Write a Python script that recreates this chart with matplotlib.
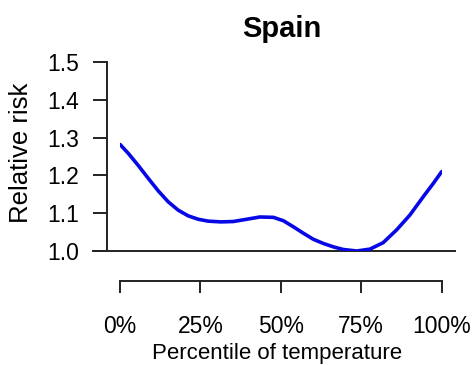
import numpy as np
import matplotlib
matplotlib.use("Agg")
import matplotlib.pyplot as plt

plt.rcParams['font.family'] = ['Liberation Sans', 'DejaVu Sans']

# valeurs (percentile, risque relatif)
percentile = [0, 2.6, 5.7, 8.8, 11.9, 15.0, 18.1, 21.2, 24.3, 27.4, 31.4,
              35.2, 39.4, 43.5, 47.7, 50.8, 53.9, 57.0, 60.1, 63.2, 66.3,
              69.4, 73.6, 77.7, 81.8, 86.0, 90.1, 94.3, 97.4, 100]
risk = [1.282, 1.258, 1.226, 1.192, 1.159, 1.130, 1.108, 1.093, 1.084, 1.079,
        1.077, 1.078, 1.084, 1.090, 1.089, 1.080, 1.064, 1.047, 1.031, 1.020,
        1.011, 1.004, 1.000, 1.005, 1.022, 1.056, 1.095, 1.144, 1.179, 1.210]

xticks = [0, 25, 50, 75, 100]
xlabels = ['0%', '25%', '50%', '75%', '100%']
yticks = [1.0, 1.1, 1.2, 1.3, 1.4, 1.5]

W, H = 475, 365
fig = plt.figure(figsize=(W/100, H/100), dpi=100)
# axe : 0..100 -> px 120..441.7 ; 1.0..1.5 -> px 251..62
ax = fig.add_axes([120/W, (H-251)/H, (441.7-120)/W, (251-62)/H])

ax.plot(percentile, risk, color='#0808e6', lw=2.6, solid_capstyle='round',
        solid_joinstyle='round', zorder=3)

ax.set_xlim(0, 100)
ax.set_ylim(1.0, 1.5)

dark = '#222222'
ax.axhline(1.0, xmin=-27/321.7, xmax=335/321.7, color=dark, lw=1.4, clip_on=False, zorder=2)

for s in ['top', 'right']:
    ax.spines[s].set_visible(False)
ax.spines['left'].set_position(('outward', 13*0.72))
ax.spines['left'].set_bounds(1.0, 1.5)
ax.spines['bottom'].set_position(('outward', 30*0.72))
ax.spines['bottom'].set_bounds(0, 100)
for s in ['left', 'bottom']:
    ax.spines[s].set_color(dark)
    ax.spines[s].set_linewidth(1.4)

ax.set_xticks(xticks)
ax.set_xticklabels(xlabels)
ax.set_yticks(yticks)
ax.set_yticklabels(['%.1f' % v for v in yticks])
ax.tick_params(axis='x', length=12*0.72, width=1.4, color=dark, pad=16, labelsize=16.5)
ax.tick_params(axis='y', length=14*0.72, width=1.4, color=dark, pad=10, labelsize=16.5)

ax.set_xlabel('Percentile of temperature', fontsize=16)
ax.xaxis.set_label_coords(0.488, -0.485)
ax.set_ylabel('Relative risk', fontsize=18.5)
ax.yaxis.set_label_coords(-0.2695, 0.5185)

fig.text(282/W, 1 - 29/H, 'Spain', ha='center', va='center', fontsize=21, fontweight='bold')

fig.savefig('out.png', dpi=100)
